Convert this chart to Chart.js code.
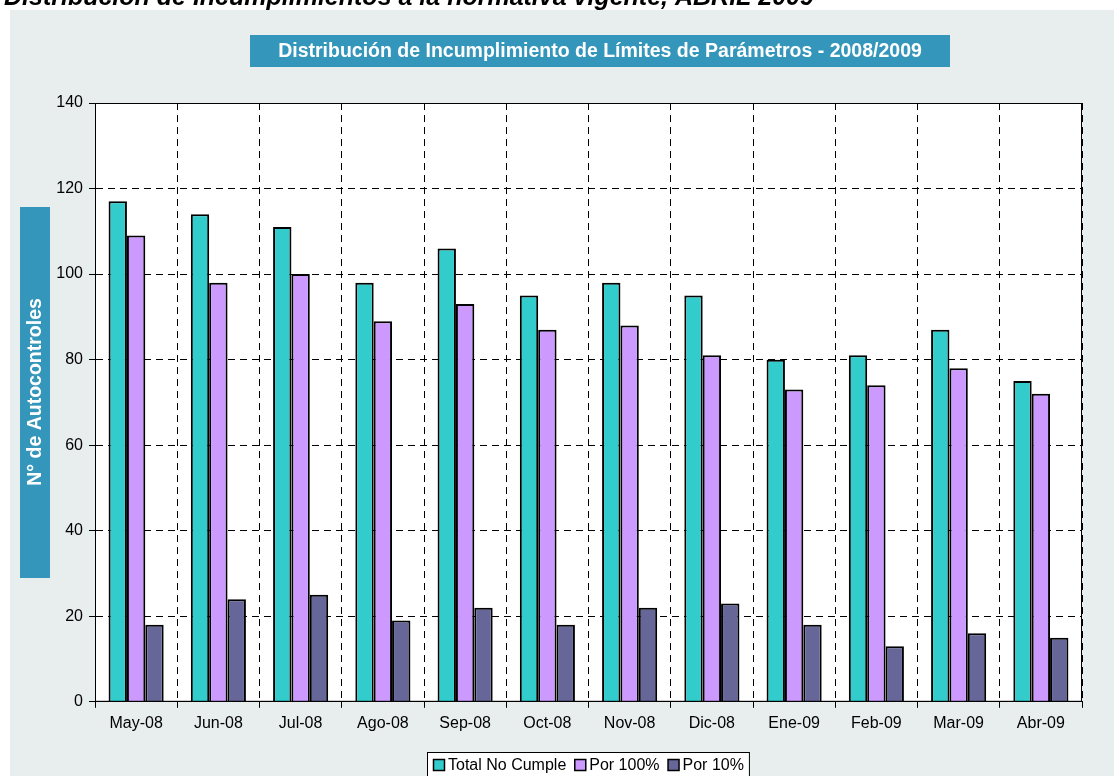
<!DOCTYPE html>
<html>
<head>
<meta charset="utf-8">
<script src="https://cdn.jsdelivr.net/npm/chart.js@4.4.0/dist/chart.umd.min.js"></script>
<style>
  html, body { margin: 0; padding: 0; background: #ffffff; overflow: hidden; }
  #wrap { position: relative; width: 1114px; height: 776px; }
  canvas { display: block; }
</style>
</head>
<body>
<div id="wrap"><canvas id="chart" width="1114" height="776"></canvas></div>
<script>
// data
const months = ['May-08', 'Jun-08', 'Jul-08', 'Ago-08', 'Sep-08', 'Oct-08',
                'Nov-08', 'Dic-08', 'Ene-09', 'Feb-09', 'Mar-09', 'Abr-09'];
const totalNoCumple = [117, 114, 111, 98, 106, 95, 98, 95, 80, 81, 87, 75];
const por100 = [109, 98, 100, 89, 93, 87, 88, 81, 73, 74, 78, 72];
const por10 = [18, 24, 25, 19, 22, 18, 22, 23, 18, 13, 16, 15];
const seriesNames = ['Total No Cumple', 'Por 100%', 'Por 10%'];

const pageTitle = 'Distribución de Incumplimientos a la normativa vigente, ABRIL 2009';
const chartTitle = 'Distribución de Incumplimiento de Límites de Parámetros - 2008/2009';
const yTitle = 'N° de Autocontroles';

const colors = ['#33CCCC', '#CC99FF', '#666699'];
const boxBlue = '#3496BA';
const panelGray = '#E8EEEE';
const fontFamily = '"Liberation Sans", Arial, sans-serif';

// background panel, headings and legend drawn around the chart
const decorations = {
    id: 'decorations',
    beforeDraw(chart) {
        const ctx = chart.ctx;
        ctx.save();
        ctx.fillStyle = '#ffffff';
        ctx.fillRect(0, 0, chart.width, chart.height);
        ctx.fillStyle = panelGray;
        ctx.fillRect(10, 10, chart.width - 10, chart.height - 10);
        const a = chart.chartArea;
        ctx.fillStyle = '#ffffff';
        ctx.fillRect(a.left, a.top, a.right - a.left, a.bottom - a.top);
        ctx.restore();
    },
    afterDraw(chart) {
        const ctx = chart.ctx;
        const a = chart.chartArea;
        ctx.save();

        // cut-off page heading
        ctx.fillStyle = '#000000';
        ctx.font = 'italic bold 25px ' + fontFamily;
        ctx.textAlign = 'left';
        ctx.textBaseline = 'alphabetic';
        ctx.fillText(pageTitle, 4, 5);

        // plot border
        ctx.strokeStyle = '#000000';
        ctx.lineWidth = 1;
        ctx.strokeRect(a.left + 0.5, a.top + 0.5, a.right - a.left - 1, a.bottom - a.top - 1);

        // chart title box
        ctx.fillStyle = boxBlue;
        ctx.fillRect(250, 35, 700, 32);
        ctx.fillStyle = '#ffffff';
        ctx.font = 'bold 19.5px ' + fontFamily;
        ctx.textAlign = 'center';
        ctx.textBaseline = 'middle';
        ctx.fillText(chartTitle, 600, 52);

        // y axis title box
        ctx.fillStyle = boxBlue;
        ctx.fillRect(20, 207, 30, 371);
        ctx.translate(36, 392);
        ctx.rotate(-Math.PI / 2);
        ctx.fillStyle = '#ffffff';
        ctx.fillText(yTitle, 0, 0);
        ctx.setTransform(1, 0, 0, 1, 0, 0);

        // legend
        ctx.font = '16px ' + fontFamily;
        ctx.textAlign = 'left';
        const box = 11, gapAfterBox = 4, gapItems = 8, pad = 6;
        let total = pad * 2;
        seriesNames.forEach((n, i) => {
            total += box + gapAfterBox + ctx.measureText(n).width;
            if (i < seriesNames.length - 1) total += gapItems;
        });
        const cx = (a.left + a.right) / 2;
        let x = Math.round(cx - total / 2);
        const top = 752;
        ctx.fillStyle = '#ffffff';
        ctx.fillRect(x, top, total, 30);
        ctx.strokeStyle = '#000000';
        ctx.lineWidth = 1;
        ctx.strokeRect(x + 0.5, top + 0.5, total - 1, 30);
        x += pad;
        const midY = top + 13;
        chart.data.datasets.forEach((ds, i) => {
            ctx.fillStyle = ds.backgroundColor;
            ctx.fillRect(x + 0.5, midY - 5.5, box, box);
            ctx.strokeStyle = '#000000';
            ctx.lineWidth = 1.5;
            ctx.strokeRect(x + 0.5, midY - 5.5, box, box);
            x += box + gapAfterBox;
            ctx.fillStyle = '#000000';
            ctx.textBaseline = 'middle';
            ctx.fillText(ds.label, x, midY + 1);
            x += ctx.measureText(ds.label).width + gapItems;
        });
        ctx.restore();
    }
};

const seriesData = [totalNoCumple, por100, por10];

new Chart(document.getElementById('chart'), {
    type: 'bar',
    data: {
        labels: months,
        datasets: seriesNames.map((name, i) => ({
            label: name,
            data: seriesData[i],
            backgroundColor: colors[i],
            borderColor: '#000000',
            borderWidth: 2,
            borderSkipped: 'bottom',
            categoryPercentage: 0.67,
            barPercentage: 1.0
        }))
    },
    options: {
        responsive: false,
        animation: false,
        layout: { padding: { left: 0, right: 32, top: 103, bottom: 37 } },
        plugins: {
            legend: { display: false },
            title: { display: false },
            tooltip: { enabled: false }
        },
        scales: {
            x: {
                offset: true,
                grid: {
                    offset: true,
                    color: '#000000',
                    lineWidth: 1,
                    tickLength: 6,
                    drawOnChartArea: true
                },
                border: { display: true, color: '#000000', dash: [7, 5] },
                ticks: {
                    color: '#000000',
                    font: { size: 16, family: fontFamily },
                    padding: 6,
                    maxRotation: 0
                }
            },
            y: {
                min: 0,
                max: 140,
                afterFit(scale) { scale.width = 95; },
                grid: {
                    color: '#000000',
                    lineWidth: 1,
                    tickLength: 6
                },
                border: { display: true, color: '#000000', dash: [7, 5] },
                ticks: {
                    stepSize: 20,
                    color: '#000000',
                    font: { size: 16, family: fontFamily },
                    padding: 6
                }
            }
        }
    },
    plugins: [decorations]
});
</script>
</body>
</html>
